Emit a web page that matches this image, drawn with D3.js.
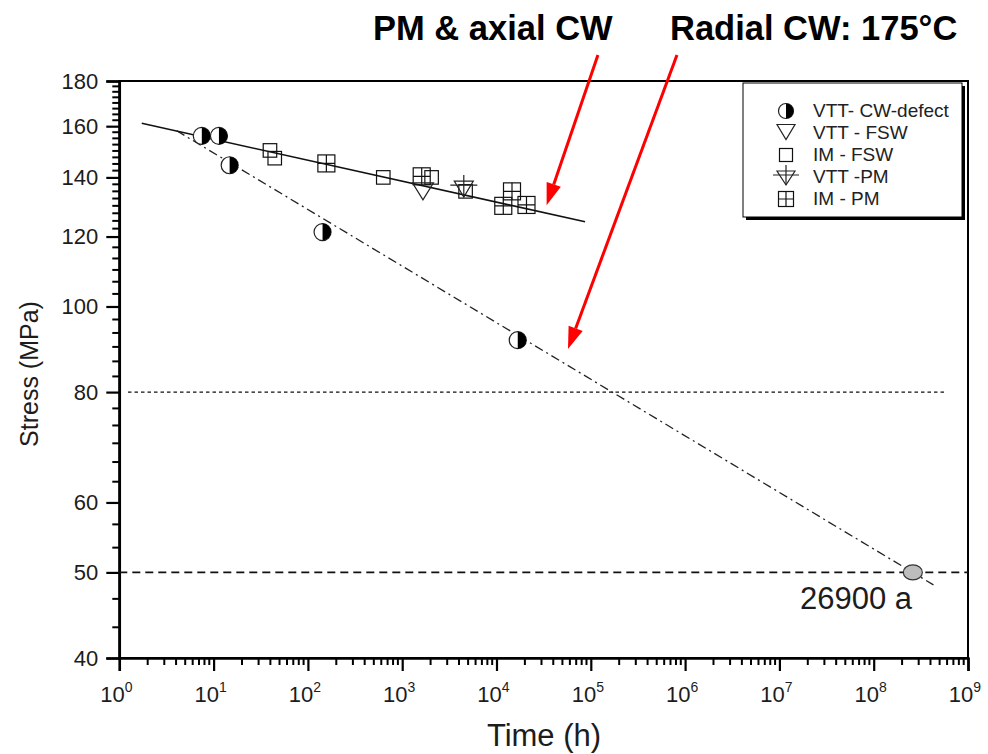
<!DOCTYPE html>
<html><head><meta charset="utf-8">
<script src="https://cdn.jsdelivr.net/npm/d3@7"></script>
<style>html,body{margin:0;padding:0;background:#fff;} svg{display:block;font-family:"Liberation Sans",Arial,sans-serif;}</style>
</head><body>
<svg id="chart" width="988" height="754"></svg>
<script>
// ---------- data (time in h, stress in MPa) ----------
const cwDefectTime   = [7.5, 11.4, 14.8, 143, 16800];
const cwDefectStress = [156, 156, 144.5, 121.4, 91.6];
const vttFswTime   = [1660];
const vttFswStress = [135];
const imFswTime   = [39.6, 44.5, 630, 2050, 4700];
const imFswStress = [150.2, 147.2, 140.0, 140.0, 135.0];
const vttPmTime   = [4500];
const vttPmStress = [135.8];
const imPmTime   = [157, 1610, 14600, 11800, 20800];
const imPmStress = [145.2, 140.4, 135.0, 130.0, 130.3];
const extrapTime = [2.6e8];
const extrapStress = [50];
const fitPmTime = [1.73, 87000];
const fitPmStress = [161.2, 124.7];
const fitRadialTime = [4.06, 4.3e8];
const fitRadialStress = [158.1, 48.4];
const refLine80 = 80, refLine50 = 50;
const yMajorTicks = [40, 50, 60, 80, 100, 120, 140, 160, 180];
const yMinorDivisions = [3, 3, 6, 6, 6, 8, 8, 8];
const xDecades = [0,1,2,3,4,5,6,7,8,9];
const legendLabels = ["VTT- CW-defect", "VTT - FSW", "IM - FSW", "VTT -PM", "IM - PM"];
const arrowPmStart = [119000, 192.6], arrowPmTip = [34000, 130.2];
const arrowRadStart = [820000, 192.6], arrowRadTip = [57300, 89.5];

// ---------- layout ----------
const svg = d3.select("#chart");
const L = 119.3, R = 968, T = 81, B = 658;
const x = d3.scaleLog().domain([1, 1e9]).range([L, R]);
const y = d3.scaleLog().domain([40, 180]).range([B, T]);
const ink = "#1c1c1c";

// frame
svg.append("rect").attr("x", L).attr("y", T).attr("width", R-L).attr("height", B-T)
  .attr("fill", "none").attr("stroke", "#000").attr("stroke-width", 2);

// y axis
const yAxis = d3.axisLeft(y).tickValues(yMajorTicks).tickFormat(d3.format("d")).tickSizeOuter(0).tickSize(13).tickPadding(8);
const gy = svg.append("g").attr("transform", `translate(${L},0)`).call(yAxis);
gy.select(".domain").attr("stroke-width", 2.5);
gy.selectAll(".tick line").attr("stroke-width", 2.2);
gy.selectAll(".tick text").attr("font-size", 22).attr("fill", ink).attr("font-family", "Liberation Sans, Arial, sans-serif");
const yMinor = [];
yMajorTicks.slice(0, -1).forEach((a, i) => {
  const b = yMajorTicks[i+1], n = yMinorDivisions[i];
  for (let k = 1; k < n; k++) yMinor.push(a + (b - a) * k / n);
});
svg.append("g").selectAll("line").data(yMinor).join("line")
  .attr("x1", L - 7).attr("x2", L).attr("y1", d => y(d)).attr("y2", d => y(d))
  .attr("stroke", "#000").attr("stroke-width", 2);

// x axis
const xMajor = xDecades.map(e => Math.pow(10, e));
const xAxis = d3.axisBottom(x).tickValues(xMajor).tickFormat("").tickSizeOuter(0).tickSize(13);
const gx = svg.append("g").attr("transform", `translate(0,${B})`).call(xAxis);
gx.select(".domain").attr("stroke-width", 2.5);
gx.selectAll(".tick line").attr("stroke-width", 2.2);
const xMinor = [];
xDecades.slice(0, -1).forEach(e => { for (let m = 2; m <= 9; m++) xMinor.push(m * Math.pow(10, e)); });
svg.append("g").selectAll("line").data(xMinor).join("line")
  .attr("x1", d => x(d)).attr("x2", d => x(d)).attr("y1", B).attr("y2", B + 7)
  .attr("stroke", "#000").attr("stroke-width", 2);
const xl = svg.append("g").selectAll("text").data(xDecades).join("text")
  .attr("x", d => x(Math.pow(10, d)) - 3).attr("y", 702)
  .attr("text-anchor", "middle").attr("font-size", 22).attr("fill", ink);
xl.append("tspan").text("10");
xl.append("tspan").attr("dy", -10).attr("font-size", 14).text(d => d);

// axis titles
svg.append("text").attr("transform", "translate(38,374) rotate(-90)").attr("text-anchor", "middle")
  .attr("font-size", 25).attr("fill", ink).text("Stress (MPa)");
svg.append("text").attr("x", 544).attr("y", 746).attr("text-anchor", "middle")
  .attr("font-size", 31).attr("fill", ink).text("Time (h)");

// reference lines
svg.append("line").attr("x1", 128).attr("x2", 947).attr("y1", y(refLine80)).attr("y2", y(refLine80))
  .attr("stroke", "#111").attr("stroke-width", 1.1).attr("stroke-dasharray", "3.5,3");
svg.append("line").attr("x1", L).attr("x2", R).attr("y1", y(refLine50)).attr("y2", y(refLine50))
  .attr("stroke", "#111").attr("stroke-width", 1.6).attr("stroke-dasharray", "8,5");

// fit lines
const lineGen = d3.line().x(d => x(d[0])).y(d => y(d[1]));
svg.append("path").attr("d", lineGen(d3.zip(fitRadialTime, fitRadialStress)))
  .attr("fill", "none").attr("stroke", "#222").attr("stroke-width", 1.3).attr("stroke-dasharray", "9,4,2,4");
svg.append("path").attr("d", lineGen(d3.zip(fitPmTime, fitPmStress)))
  .attr("fill", "none").attr("stroke", "#111").attr("stroke-width", 1.6);

// symbol drawers
function halfCircle(g, cx, cy, r) {
  g.append("circle").attr("cx", cx).attr("cy", cy).attr("r", r).attr("fill", "#fff").attr("stroke", "#222").attr("stroke-width", 1.2);
  g.append("path").attr("d", `M${cx},${cy-r} A${r},${r} 0 0 1 ${cx},${cy+r} Z`).attr("fill", "#000");
}
function triDown(g, cx, cy, w, h) {
  g.append("path").attr("d", `M${cx-w/2},${cy-h/2} L${cx+w/2},${cy-h/2} L${cx},${cy+h/2} Z`)
    .attr("fill", "none").attr("stroke", "#222").attr("stroke-width", 1.2);
}
function square(g, cx, cy, s) {
  g.append("rect").attr("x", cx-s/2).attr("y", cy-s/2).attr("width", s).attr("height", s)
    .attr("fill", "none").attr("stroke", "#111").attr("stroke-width", 1.2);
}
function crossSquare(g, cx, cy, s) {
  square(g, cx, cy, s);
  g.append("path").attr("d", `M${cx-s/2},${cy} H${cx+s/2} M${cx},${cy-s/2} V${cy+s/2}`)
    .attr("stroke", "#111").attr("stroke-width", 1.2);
}
function triPlus(g, cx, cy, w, h) {
  triDown(g, cx, cy, w, h);
  g.append("path").attr("d", `M${cx-w/2-4},${cy-h/2+4} H${cx+w/2+4} M${cx},${cy-h/2-6} V${cy+h/2}`)
    .attr("stroke", "#222").attr("stroke-width", 1.2);
}

const gm = svg.append("g");
imFswTime.forEach((t, i) => square(gm, x(t), y(imFswStress[i]), 13.5));
imPmTime.forEach((t, i) => crossSquare(gm, x(t), y(imPmStress[i]), 17));
vttFswTime.forEach((t, i) => triDown(gm, x(t), y(vttFswStress[i]), 21, 17));
vttPmTime.forEach((t, i) => triPlus(gm, x(t), y(vttPmStress[i]), 19, 16));
cwDefectTime.forEach((t, i) => halfCircle(gm, x(t), y(cwDefectStress[i]), 8.5));
extrapTime.forEach((t, i) => gm.append("ellipse").attr("cx", x(t)).attr("cy", y(extrapStress[i]))
  .attr("rx", 9.5).attr("ry", 7.5).attr("fill", "#bdbdbd").attr("stroke", "#333").attr("stroke-width", 1.2));

svg.append("text").attr("x", 800).attr("y", 609).attr("font-size", 31).attr("fill", ink).text("26900 a");

// legend
const lg = svg.append("g");
lg.append("rect").attr("x", 746).attr("y", 86).attr("width", 219).attr("height", 134).attr("fill", "#000");
lg.append("rect").attr("x", 743).attr("y", 83).attr("width", 219).attr("height", 134)
  .attr("fill", "#fff").attr("stroke", "#000").attr("stroke-width", 1);
const rows = [111, 133, 155, 177, 199];
halfCircle(lg, 786, rows[0], 7.5);
triDown(lg, 786, rows[1] - 1, 18, 15);
square(lg, 786, rows[2], 13);
triPlus(lg, 786, rows[3] + 1, 18, 14);
crossSquare(lg, 786, rows[4], 15);
lg.selectAll("text.leg").data(legendLabels).join("text").attr("class", "leg")
  .attr("x", 813).attr("y", (d, i) => rows[i] + 6).attr("font-size", 19).attr("fill", "#222").text(d => d);

// titles
svg.append("text").attr("x", 373).attr("y", 40).attr("font-size", 34.5).attr("font-weight", "bold").attr("fill", "#000").text("PM & axial CW");
svg.append("text").attr("x", 670).attr("y", 40).attr("font-size", 34.5).attr("font-weight", "bold").attr("fill", "#000").text("Radial CW: 175°C");

// arrows
function arrow(s, e) {
  const x1 = x(s[0]), y1 = y(s[1]), x2 = x(e[0]), y2 = y(e[1]);
  const ang = Math.atan2(y2 - y1, x2 - x1), hl = 22, hw = 7.5;
  const bx = x2 - hl * Math.cos(ang), by = y2 - hl * Math.sin(ang);
  svg.append("line").attr("x1", x1).attr("y1", y1).attr("x2", bx).attr("y2", by)
    .attr("stroke", "#f00").attr("stroke-width", 3);
  const px = -Math.sin(ang) * hw, py = Math.cos(ang) * hw;
  svg.append("path").attr("d", `M${x2},${y2} L${bx+px},${by+py} L${bx-px},${by-py} Z`).attr("fill", "#f00");
}
arrow(arrowPmStart, arrowPmTip);
arrow(arrowRadStart, arrowRadTip);
</script>
</body></html>
